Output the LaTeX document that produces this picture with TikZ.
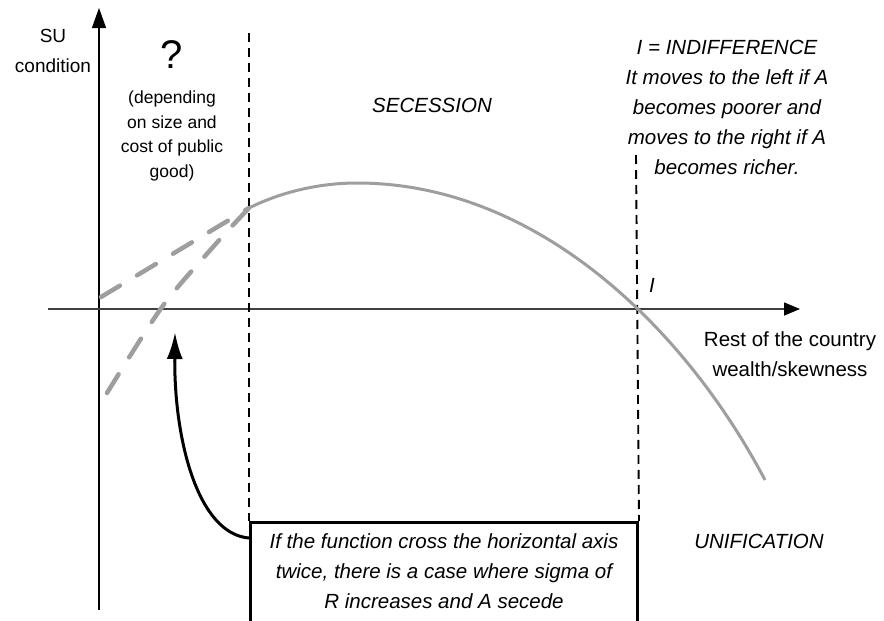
\documentclass[tikz,border=0pt]{standalone}
\usepackage{fontspec}
\setmainfont{Liberation Sans}
\usetikzlibrary{arrows.meta}
\definecolor{curvegray}{RGB}{158,158,158}
\definecolor{axisgray}{RGB}{64,64,64}
\begin{document}
\begin{tikzpicture}[x=1pt,y=-1pt,
  txt/.style={inner sep=0pt, align=center, font=\fontsize{20.5}{30}\selectfont},
  itxt/.style={inner sep=0pt, align=center, font=\fontsize{20.5}{30}\selectfont\itshape},
  vdash/.style={line width=1.9pt, dash pattern=on 9pt off 6pt},
  curve/.style={curvegray, line width=3pt},
  dcurve/.style={curvegray, line width=4.5pt, dash pattern=on 22pt off 20pt, line cap=round},
  notebox/.style={draw, line width=3pt, inner xsep=0pt, inner ysep=11pt, text depth=14pt, align=center,
    font=\fontsize{20.5}{30}\selectfont\itshape}
]
\useasboundingbox (0,0) rectangle (884,621);

% axes
\coordinate (ybot) at (99,610);
\coordinate (ytop) at (99,8);
\coordinate (xleft) at (48,309);
\coordinate (xright) at (800,309);
\draw[line width=1.3pt, -{Triangle[length=20pt,width=14pt]}] (ybot) -- (ytop);
\draw[axisgray, line width=1.5pt, -{Triangle[length=16pt,width=13pt,color=black]}] (xleft) -- (xright);

% note box
\node[notebox, minimum width=387pt, anchor=north west] (box) at (249,521)
  {If the function cross the horizontal axis\\twice, there is a case where sigma of\\R increases and A secede};

% dashed vertical lines
\coordinate (d1top) at (249,33);
\coordinate (d2top) at (636,155);
\draw[vdash] (d1top) -- (box.north west);
\draw[vdash] (d2top) -- (box.north east);

% curves
\coordinate (cstart) at (249,208);
\coordinate (cpeak) at (357,183);
\coordinate (cend) at (765,480);
\draw[curve] (cstart) .. controls (279,193) and (317,183) .. (cpeak)
  .. controls (537,183) and (685,328) .. (cend);
\draw[dcurve] (101,297) -- (cstart);
\draw[dcurve] plot[smooth] coordinates {(107,393) (162,307) (213,247) (249,208)};

% arrow from box
\coordinate (astart) at (249,538);
\coordinate (atip) at (175,332);
\draw[line width=3pt, -{Latex[length=27pt,width=16pt]}] (astart) .. controls (198,534) and (174,440) .. (atip);

% labels (anchor=base is the baseline of the last line)
\node[txt, anchor=base, font=\fontsize{19}{30}\selectfont] (su) at (53,72) {SU\\condition};
\node[txt, anchor=base, font=\fontsize{40}{40}\selectfont] (q) at (172,68) {?};
\node[txt, anchor=base, font=\fontsize{17.5}{24.5}\selectfont] (dep) at (172,177) {(depending\\on size and\\cost of public\\good)};
\node[itxt, anchor=base] (sec) at (432,112) {SECESSION};
\node[itxt, anchor=base] (ind) at (727,174) {I = INDIFFERENCE\\It moves to the left if A\\becomes poorer and\\moves to the right if A\\becomes richer.};
\node[itxt, anchor=base] (ilbl) at (652,292) {I};
\node[txt, anchor=base] (rest) at (790,376) {Rest of the country\\wealth/skewness};
\node[itxt, anchor=base] (uni) at (759,548) {UNIFICATION};
\end{tikzpicture}
\end{document}
